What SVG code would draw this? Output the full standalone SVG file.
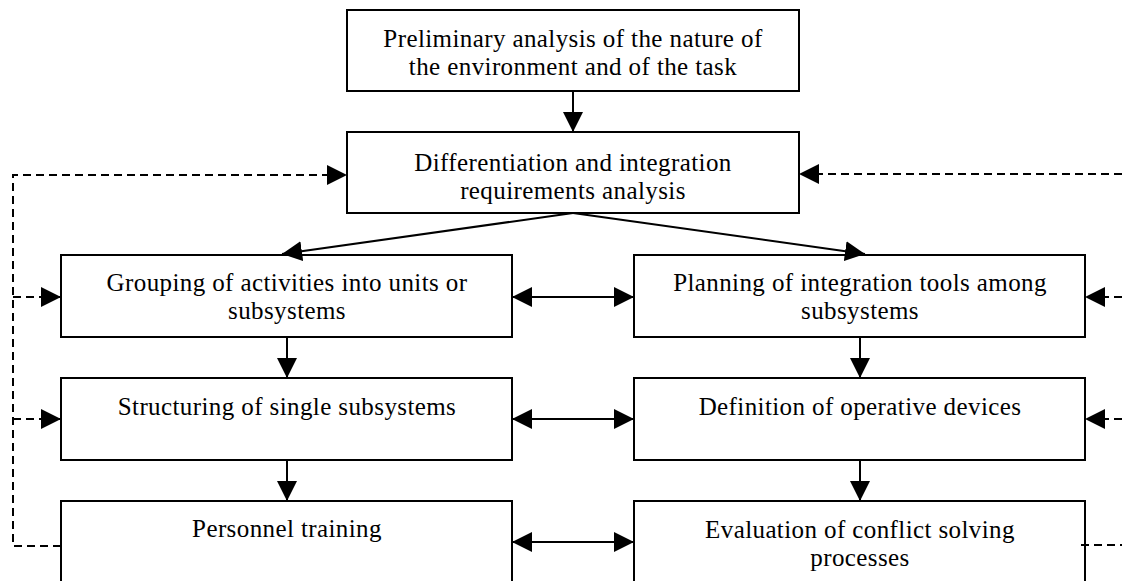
<svg xmlns="http://www.w3.org/2000/svg" width="1122" height="581" viewBox="0 0 1122 581">
<style>
.box{fill:#fff;stroke:#000;stroke-width:2}
.t{font-family:"Liberation Serif","Times New Roman",serif;font-size:25px;letter-spacing:0.4px;fill:#000;text-anchor:middle}
.ln{stroke:#000;stroke-width:2;fill:none}
.ds{stroke:#000;stroke-width:2;fill:none;stroke-dasharray:8,5}
</style>
<defs>
<marker id="ah" viewBox="0 0 20 20" refX="20" refY="10" markerWidth="20" markerHeight="20" markerUnits="userSpaceOnUse" orient="auto-start-reverse">
<path d="M0,0 L20,10 L0,20 Z" fill="#000"/>
</marker>
</defs>
<rect width="1122" height="581" fill="#fff"/>
<g id="n1"><rect class="box" x="347" y="10" width="452" height="81"/>
<text class="t" x="573" y="47">Preliminary analysis of the nature of</text>
<text class="t" x="573" y="75">the environment and of the task</text></g>
<g id="n2"><rect class="box" x="347" y="132" width="452" height="81"/>
<text class="t" x="573" y="171">Differentiation and integration</text>
<text class="t" x="573" y="199">requirements analysis</text></g>
<g id="n3"><rect class="box" x="61" y="255" width="451" height="82"/>
<text class="t" x="287" y="291">Grouping of activities into units or</text>
<text class="t" x="287" y="319">subsystems</text></g>
<g id="n4"><rect class="box" x="634" y="255" width="451" height="82"/>
<text class="t" x="860" y="291">Planning of integration tools among</text>
<text class="t" x="860" y="319">subsystems</text></g>
<g id="n5"><rect class="box" x="61" y="378" width="451" height="82"/>
<text class="t" x="287" y="415">Structuring of single subsystems</text></g>
<g id="n6"><rect class="box" x="634" y="378" width="451" height="82"/>
<text class="t" x="860" y="415">Definition of operative devices</text></g>
<g id="n7"><rect class="box" x="61" y="501" width="451" height="90"/>
<text class="t" x="287" y="537">Personnel training</text></g>
<g id="n8"><rect class="box" x="634" y="501" width="451" height="90"/>
<text class="t" x="860" y="538">Evaluation of conflict solving</text>
<text class="t" x="860" y="566">processes</text></g>
<g id="connectors">
<line class="ln" x1="573" y1="91" x2="573" y2="132" marker-end="url(#ah)"/>
<line class="ln" x1="573" y1="213" x2="282" y2="254" marker-end="url(#ah)"/>
<line class="ln" x1="573" y1="213" x2="865" y2="254" marker-end="url(#ah)"/>
<line class="ln" x1="287" y1="337" x2="287" y2="378" marker-end="url(#ah)"/>
<line class="ln" x1="860" y1="337" x2="860" y2="378" marker-end="url(#ah)"/>
<line class="ln" x1="287" y1="460" x2="287" y2="501" marker-end="url(#ah)"/>
<line class="ln" x1="860" y1="460" x2="860" y2="501" marker-end="url(#ah)"/>
<line class="ln" x1="512" y1="297" x2="634" y2="297" marker-start="url(#ah)" marker-end="url(#ah)"/>
<line class="ln" x1="512" y1="419" x2="634" y2="419" marker-start="url(#ah)" marker-end="url(#ah)"/>
<line class="ln" x1="512" y1="542" x2="634" y2="542" marker-start="url(#ah)" marker-end="url(#ah)"/>
<polyline class="ds" points="61,546 13,546 13,175 347,175" marker-end="url(#ah)"/>
<line class="ds" x1="13" y1="297" x2="61" y2="297" marker-end="url(#ah)"/>
<line class="ds" x1="13" y1="419" x2="61" y2="419" marker-end="url(#ah)"/>
<line class="ds" x1="1122" y1="174" x2="799" y2="174" marker-end="url(#ah)"/>
<line class="ds" x1="1122" y1="297" x2="1085" y2="297" marker-end="url(#ah)"/>
<line class="ds" x1="1122" y1="419" x2="1085" y2="419" marker-end="url(#ah)"/>
<line class="ds" x1="1081" y1="545" x2="1122" y2="545"/>
</g>
</svg>
